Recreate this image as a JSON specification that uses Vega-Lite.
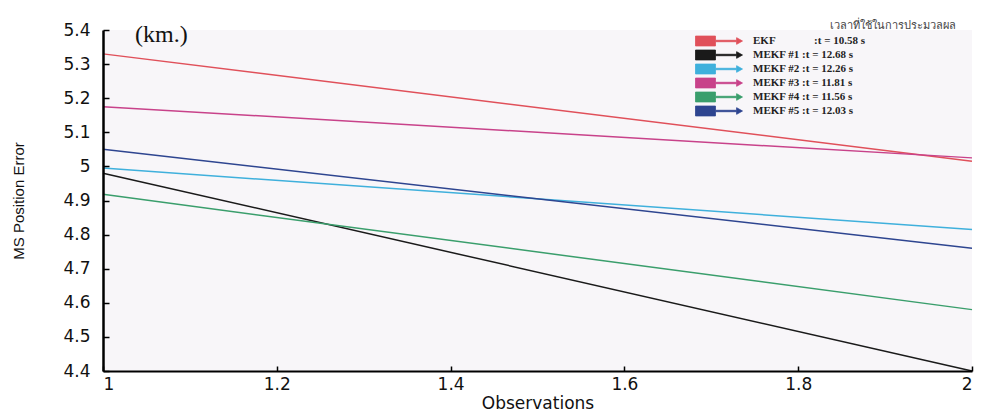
{
  "$schema": "https://vega.github.io/schema/vega-lite/v6.json",
  "width": 869,
  "height": 341,
  "autosize": {"type": "none"},
  "padding": {"left": 103, "top": 30, "right": 10, "bottom": 45},
  "background": "white",
  "title": {
    "text": "(km.)",
    "anchor": "start",
    "frame": "group",
    "dx": 32,
    "offset": -27,
    "font": "Liberation Serif",
    "fontSize": 24,
    "fontWeight": "normal",
    "color": "#111111"
  },
  "data": {
    "values": [
      {"series": "EKF\u00a0\u00a0\u00a0\u00a0\u00a0\u00a0\u00a0\u00a0\u00a0\u00a0\u00a0\u00a0\u00a0\u00a0:t = 10.58 s", "obs": 1, "err": 5.33},
      {"series": "EKF\u00a0\u00a0\u00a0\u00a0\u00a0\u00a0\u00a0\u00a0\u00a0\u00a0\u00a0\u00a0\u00a0\u00a0:t = 10.58 s", "obs": 2, "err": 5.015},
      {"series": "MEKF #1 :t = 12.68 s", "obs": 1, "err": 4.98},
      {"series": "MEKF #1 :t = 12.68 s", "obs": 2, "err": 4.40},
      {"series": "MEKF #2 :t = 12.26 s", "obs": 1, "err": 4.995},
      {"series": "MEKF #2 :t = 12.26 s", "obs": 2, "err": 4.815},
      {"series": "MEKF #3 :t = 11.81 s", "obs": 1, "err": 5.175},
      {"series": "MEKF #3 :t = 11.81 s", "obs": 2, "err": 5.025},
      {"series": "MEKF #4 :t = 11.56 s", "obs": 1, "err": 4.918},
      {"series": "MEKF #4 :t = 11.56 s", "obs": 2, "err": 4.58},
      {"series": "MEKF #5 :t = 12.03 s", "obs": 1, "err": 5.05},
      {"series": "MEKF #5 :t = 12.03 s", "obs": 2, "err": 4.76}
    ]
  },
  "mark": {"type": "line", "strokeWidth": 1.5},
  "encoding": {
    "x": {
      "field": "obs",
      "type": "quantitative",
      "scale": {"domain": [1, 2], "nice": false, "zero": false},
      "axis": {
        "title": "Observations",
        "values": [1, 1.2, 1.4, 1.6, 1.8, 2],
        "format": "~g",
        "grid": false,
        "zindex": 2,
        "domain": true,
        "domainColor": "#000000",
        "domainWidth": 2,
        "ticks": true,
        "tickColor": "#000000",
        "tickWidth": 1.5,
        "tickSize": -5,
        "labelPadding": 10,
        "labelFont": "DejaVu Sans",
        "labelFontSize": 17,
        "labelColor": "#111111",
        "titleFont": "DejaVu Sans",
        "titleFontSize": 17,
        "titleFontWeight": "normal",
        "titleColor": "#111111",
        "titlePadding": 3
      }
    },
    "y": {
      "field": "err",
      "type": "quantitative",
      "scale": {"domain": [4.4, 5.4], "nice": false, "zero": false},
      "axis": {
        "title": "MS Position Error",
        "values": [4.4, 4.5, 4.6, 4.7, 4.8, 4.9, 5, 5.1, 5.2, 5.3, 5.4],
        "format": "~g",
        "grid": false,
        "zindex": 2,
        "domain": true,
        "domainColor": "#000000",
        "domainWidth": 2.5,
        "ticks": true,
        "tickColor": "#000000",
        "tickWidth": 1.5,
        "tickSize": -6,
        "labelPadding": 19,
        "labelFont": "DejaVu Sans",
        "labelFontSize": 17,
        "labelColor": "#111111",
        "titleFont": "Liberation Sans",
        "titleFontSize": 15,
        "titleFontWeight": "normal",
        "titleColor": "#111111",
        "titlePadding": 36
      }
    },
    "color": {
      "field": "series",
      "type": "nominal",
      "scale": {
        "domain": [
          "EKF\u00a0\u00a0\u00a0\u00a0\u00a0\u00a0\u00a0\u00a0\u00a0\u00a0\u00a0\u00a0\u00a0\u00a0:t = 10.58 s",
          "MEKF #1 :t = 12.68 s",
          "MEKF #2 :t = 12.26 s",
          "MEKF #3 :t = 11.81 s",
          "MEKF #4 :t = 11.56 s",
          "MEKF #5 :t = 12.03 s"
        ],
        "range": ["#e0505a", "#1a1a1a", "#3fb0dc", "#c8428a", "#3a9e6c", "#2e4590"]
      },
      "legend": {
        "title": "\u200b\u00a0\u00a0\u00a0\u00a0\u00a0\u00a0\u00a0\u00a0\u00a0\u00a0\u00a0\u00a0\u00a0\u00a0\u00a0\u00a0\u00a0\u00a0\u00a0\u00a0\u00a0\u00a0\u00a0\u00a0\u00a0\u00a0\u00a0\u00a0\u00a0\u00a0\u00a0\u00a0\u00a0\u00a0\u00a0\u00a0\u00a0\u00a0\u00a0\u00a0\u00a0เวลาที่ใช้ในการประมวลผล",
        "orient": "none",
        "legendX": 610,
        "legendY": -10,
        "symbolType": "M-4.27,-0.9H-0.64V-0.13H3.2V-0.6L4.27,0L3.2,0.6V0.13H-0.64V0.9H-4.27Z",
        "symbolSize": 121,
        "symbolStrokeWidth": 0.8,
        "labelFont": "Liberation Serif",
        "labelFontWeight": "bold",
        "labelFontSize": 11,
        "labelColor": "#222222",
        "labelOffset": 28,
        "labelLimit": 300,
        "rowPadding": 0,
        "titleFont": "Noto Sans",
        "titleFontSize": 11,
        "titleFontWeight": "normal",
        "titleColor": "#444444",
        "titlePadding": 4,
        "titleLimit": 400,
        "padding": 0,
        "encode": {
          "symbols": {
            "update": {
              "fill": {"scale": "color", "field": "value"},
              "stroke": {"value": "#222222"},
              "strokeWidth": {"value": 0.8}
            }
          }
        }
      }
    }
  },
  "config": {
    "view": {"stroke": null, "fill": "#f8f6f9"}
  }
}
